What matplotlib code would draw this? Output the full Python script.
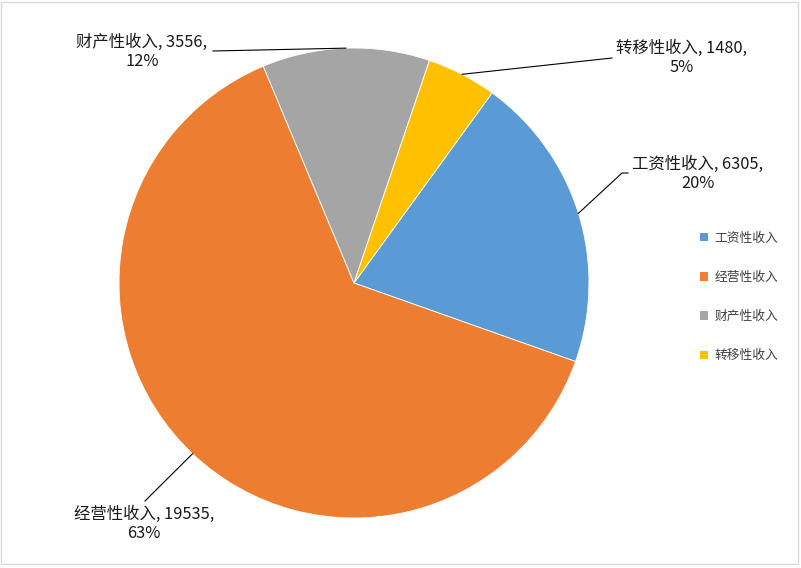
import numpy as np
import matplotlib
matplotlib.use('Agg')
import matplotlib.pyplot as plt
from matplotlib.patches import Rectangle, Patch

plt.rcParams['font.family'] = ['Noto Sans CJK SC', 'DejaVu Sans']

categories = ['工资性收入', '经营性收入', '财产性收入', '转移性收入']
values = [6305, 19535, 3556, 1480]
colors = ['#5B9BD5', '#ED7D31', '#A5A5A5', '#FFC000']

W, H = 801, 568
fig = plt.figure(figsize=(W / 100, H / 100), dpi=100)
ax = fig.add_axes([0, 0, 1, 1])

cx, cy, r = 354, H - 283, 235
wedges, _ = ax.pie(values, colors=colors, startangle=54, counterclock=False,
                   center=(cx, cy), radius=r, frame=True,
                   wedgeprops=dict(edgecolor='white', linewidth=0.6))
ax.set_xlim(0, W)
ax.set_ylim(0, H)
ax.set_aspect('auto')
ax.axis('off')

# label text centres and leader line elbows (pixel coords, y from top)
label_pos = [(698, 174), (144, 524), (142, 52), (682, 58)]
leader_pts = [[(622, 173), (628, 173)], [(145, 501)], [(213, 51)], [(612, 58)]]

total = sum(values)
for w, cat, v, (tx, ty), pts in zip(wedges, categories, values, label_pos, leader_pts):
    mid = np.deg2rad((w.theta1 + w.theta2) / 2)
    ex, ey = cx + r * np.cos(mid), cy + r * np.sin(mid)
    xs = [ex] + [p[0] for p in pts]
    ys = [ey] + [H - p[1] for p in pts]
    ax.plot(xs, ys, color='black', lw=0.8)
    pct = round(v / total * 100)
    ax.text(tx, H - ty, f'{cat}, {v},\n{pct}%', ha='center', va='center',
            fontsize=11.8, linespacing=1.2, color='#1a1a1a')

handles = [Patch(facecolor=c, edgecolor='none') for c in colors]
fig.legend(handles, categories, loc='center left', bbox_to_anchor=(688 / W, 1 - 297 / H),
           frameon=False, fontsize=9.2, labelspacing=2.05, handlelength=0.65,
           handleheight=0.65, handletextpad=0.55, labelcolor='#404040')

fig.patches.append(Rectangle((1 / W, 4 / H), 797 / W, 562 / H, transform=fig.transFigure,
                             fill=False, edgecolor='#d9d9d9', lw=1))

fig.savefig('out.png', dpi=100)
